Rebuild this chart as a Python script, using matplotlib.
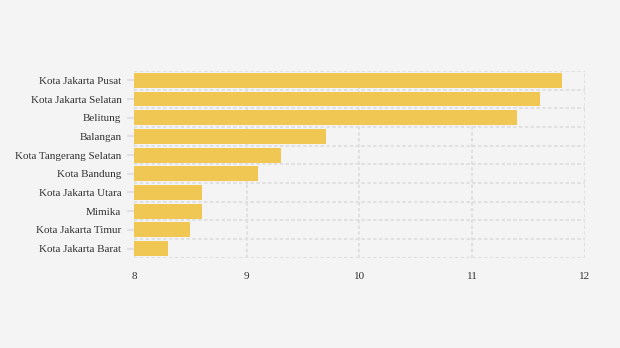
import matplotlib.pyplot as plt
import numpy as np

# Data
kota = ["Kota Jakarta Pusat", "Kota Jakarta Selatan", "Belitung", "Balangan",
        "Kota Tangerang Selatan", "Kota Bandung", "Kota Jakarta Utara",
        "Mimika", "Kota Jakarta Timur", "Kota Jakarta Barat"]
nilai = [11.8, 11.6, 11.4, 9.7, 9.3, 9.1, 8.6, 8.6, 8.5, 8.3]
xticks = [8, 9, 10, 11, 12]

bg = "#f4f4f4"
grid_col = "#e0e0e0"

plt.rcParams['font.family'] = ['Liberation Serif', 'DejaVu Serif']

fig = plt.figure(figsize=(6.2, 3.48), dpi=100, facecolor=bg)
ax = fig.add_axes([0.216, 0.259, 0.7275, 0.537])
ax.set_facecolor(bg)

y = np.arange(len(kota))
ax.barh(y, np.array(nilai) - 8, left=8, height=0.8, color="#f0c752", zorder=2)

ax.set_xlim(8, 12)
ax.set_ylim(len(kota) - 0.5, -0.5)
ax.set_xticks(xticks)
ax.set_xticklabels([str(t) for t in xticks])
ax.set_yticks(y)
ax.set_yticklabels(kota)

# grid garis putus-putus di batas kategori
ax.set_yticks(np.arange(-0.5, len(kota)), minor=True)
ax.grid(True, which="minor", axis="y", color=grid_col, linestyle=(0, (1.6, 1.2)), linewidth=1.5, zorder=1)
ax.grid(True, which="major", axis="x", color=grid_col, linestyle=(0, (1.6, 1.2)), linewidth=1.5, zorder=1)

for s in ax.spines.values():
    s.set_visible(False)

ax.tick_params(axis="x", length=0, pad=10, labelsize=8, labelcolor="#333333")
ax.tick_params(axis="y", which="major", length=5, color=grid_col, width=1.5, pad=4,
               labelsize=8, labelcolor="#333333")
ax.tick_params(axis="y", which="minor", length=0)

fig.savefig("out.png", dpi=100, facecolor=bg)
